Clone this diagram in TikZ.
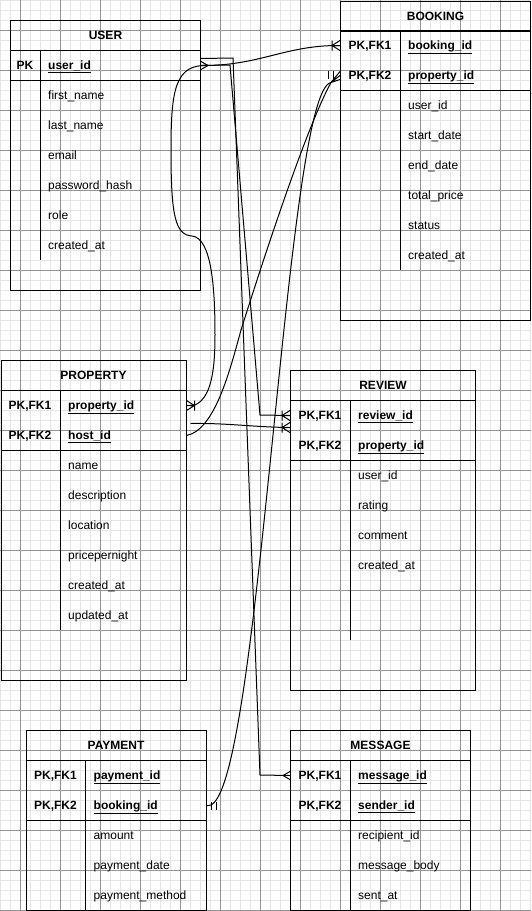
\documentclass[tikz,border=0pt]{standalone}
\usepackage{fontspec}
\setmainfont{Liberation Sans}
\usetikzlibrary{positioning,calc}

\newcommand{\erfont}{\fontsize{12}{14}\selectfont}

\tikzset{
  every node/.style={font=\erfont,inner sep=0pt},
  tabhead/.style={draw,line width=1pt,anchor=north west,minimum height=30pt,font=\erfont\bfseries},
  tabpart/.style={draw,line width=1pt,anchor=north west},
  tabline/.style={line width=1pt},
  keytag/.style={anchor=base,font=\erfont\bfseries},
  keyfield/.style={anchor=base west,font=\erfont\bfseries},
  field/.style={anchor=base west},
  link/.style={draw,line width=1pt},
  gridminor/.style={draw=black!10,line width=1pt},
  gridmajor/.style={draw=black!42,line width=1pt},
  onemany/.pic={\draw[line width=1pt] (-8,-5) -- (-8,5) (-8,0) -- (0,-5) (-8,0) -- (0,5) (-8,0) -- (0,0);},
  manyfoot/.pic={\draw[line width=1pt] (0,-4) -- (-7,0) -- (0,4);},
  mandone/.pic={\draw[line width=1pt] (-5,-4) -- (-5,4) (-10,-4) -- (-10,4);}
}

\begin{document}
\begin{tikzpicture}[x=1pt,y=-1pt]
    \useasboundingbox (0,0) rectangle (531,911);
    % grid
    \foreach \gx in {0,10,...,530} \draw[gridminor] (\gx,0) -- (\gx,911);
    \foreach \gy in {0,10,...,910} \draw[gridminor] (0,\gy) -- (531,\gy);
    \foreach \gx in {20,60,...,500} \draw[gridmajor] (\gx,0) -- (\gx,911);
    \foreach \gy in {30,70,...,910} \draw[gridmajor] (0,\gy) -- (531,\gy);

    % USER
    \node[tabhead,minimum width=190pt] (user-head) at (10,20) {USER};
    \node[tabpart,minimum width=190pt,minimum height=30pt] (user-keys) at (10,50) {};
    \node[tabpart,minimum width=190pt,minimum height=210pt] (user-body) at (10,80) {};
    \draw[tabline] (40,50) -- (40,260);
    \node[keytag] (user-t1) at (25,69.5) {PK};
    \node[keyfield] (user-id) at (48,69.5) {\underline{user\_id}};
    \node[field] (user-a1) at (48,99.5) {first\_name};
    \node[field] (user-a2) at (48,129.5) {last\_name};
    \node[field] (user-a3) at (48,159.5) {email};
    \node[field] (user-a4) at (48,189.5) {password\_hash};
    \node[field] (user-a5) at (48,219.5) {role};
    \node[field] (user-a6) at (48,249.5) {created\_at};

    % BOOKING
    \node[tabhead,minimum width=190pt] (book-head) at (340,0.5) {BOOKING};
    \node[tabpart,minimum width=190pt,minimum height=60pt] (book-keys) at (340,30) {};
    \node[tabpart,minimum width=190pt,minimum height=230pt] (book-body) at (340,90) {};
    \draw[tabline] (400,30) -- (400,270);
    \node[keytag] (book-t1) at (370,49.5) {PK,FK1};
    \node[keytag] (book-t2) at (370,79.5) {PK,FK2};
    \node[keyfield] (book-id) at (408,49.5) {\underline{booking\_id}};
    \node[keyfield] (book-prop) at (408,79.5) {\underline{property\_id}};
    \node[field] (book-a1) at (408,109.5) {user\_id};
    \node[field] (book-a2) at (408,139.5) {start\_date};
    \node[field] (book-a3) at (408,169.5) {end\_date};
    \node[field] (book-a4) at (408,199.5) {total\_price};
    \node[field] (book-a5) at (408,229.5) {status};
    \node[field] (book-a6) at (408,259.5) {created\_at};

    % PROPERTY
    \node[tabhead,minimum width=185pt] (prop-head) at (0.5,360) {PROPERTY};
    \node[tabpart,minimum width=185pt,minimum height=60pt] (prop-keys) at (0.5,390) {};
    \node[tabpart,minimum width=185pt,minimum height=230pt] (prop-body) at (0.5,450) {};
    \draw[tabline] (60,390) -- (60,630);
    \node[keytag] (prop-t1) at (30,409.5) {PK,FK1};
    \node[keytag] (prop-t2) at (30,439.5) {PK,FK2};
    \node[keyfield] (prop-id) at (68,409.5) {\underline{property\_id}};
    \node[keyfield] (prop-host) at (68,439.5) {\underline{host\_id}};
    \node[field] (prop-a1) at (68,469.5) {name};
    \node[field] (prop-a2) at (68,499.5) {description};
    \node[field] (prop-a3) at (68,529.5) {location};
    \node[field] (prop-a4) at (68,559.5) {pricepernight};
    \node[field] (prop-a5) at (68,589.5) {created\_at};
    \node[field] (prop-a6) at (68,619.5) {updated\_at};

    % REVIEW
    \node[tabhead,minimum width=185pt] (rev-head) at (290,370) {REVIEW};
    \node[tabpart,minimum width=185pt,minimum height=60pt] (rev-keys) at (290,400) {};
    \node[tabpart,minimum width=185pt,minimum height=230pt] (rev-body) at (290,460) {};
    \draw[tabline] (350,400) -- (350,640);
    \node[keytag] (rev-t1) at (320,419.5) {PK,FK1};
    \node[keytag] (rev-t2) at (320,449.5) {PK,FK2};
    \node[keyfield] (rev-id) at (358,419.5) {\underline{review\_id}};
    \node[keyfield] (rev-prop) at (358,449.5) {\underline{property\_id}};
    \node[field] (rev-a1) at (358,479.5) {user\_id};
    \node[field] (rev-a2) at (358,509.5) {rating};
    \node[field] (rev-a3) at (358,539.5) {comment};
    \node[field] (rev-a4) at (358,569.5) {created\_at};

    % PAYMENT
    \node[tabhead,minimum width=180pt] (pay-head) at (25.5,730) {PAYMENT};
    \node[tabpart,minimum width=180pt,minimum height=60pt] (pay-keys) at (25.5,760) {};
    \node[tabpart,minimum width=180pt,minimum height=90pt] (pay-body) at (25.5,820) {};
    \draw[tabline] (85.5,760) -- (85.5,910);
    \node[keytag] (pay-t1) at (55.5,779.5) {PK,FK1};
    \node[keytag] (pay-t2) at (55.5,809.5) {PK,FK2};
    \node[keyfield] (pay-id) at (93.5,779.5) {\underline{payment\_id}};
    \node[keyfield] (pay-book) at (93.5,809.5) {\underline{booking\_id}};
    \node[field] (pay-a1) at (93.5,839.5) {amount};
    \node[field] (pay-a2) at (93.5,869.5) {payment\_date};
    \node[field] (pay-a3) at (93.5,899.5) {payment\_method};

    % MESSAGE
    \node[tabhead,minimum width=180pt] (msg-head) at (290,730) {MESSAGE};
    \node[tabpart,minimum width=180pt,minimum height=60pt] (msg-keys) at (290,760) {};
    \node[tabpart,minimum width=180pt,minimum height=90pt] (msg-body) at (290,820) {};
    \draw[tabline] (350,760) -- (350,910);
    \node[keytag] (msg-t1) at (320,779.5) {PK,FK1};
    \node[keytag] (msg-t2) at (320,809.5) {PK,FK2};
    \node[keyfield] (msg-id) at (358,779.5) {\underline{message\_id}};
    \node[keyfield] (msg-sender) at (358,809.5) {\underline{sender\_id}};
    \node[field] (msg-a1) at (358,839.5) {recipient\_id};
    \node[field] (msg-a2) at (358,869.5) {message\_body};
    \node[field] (msg-a3) at (358,899.5) {sent\_at};

    % connection points
    \coordinate (user-pk) at (user-keys.east);
    \coordinate (user-pk0) at ($(user-keys.east)+(0,-7)$);
    \coordinate (book-pk1) at ($(book-keys.west)+(0,-15)$);
    \coordinate (book-pk2) at ($(book-keys.west)+(0,15)$);
    \coordinate (book-fan) at ($(book-pk2)+(-9,7)$);
    \coordinate (prop-pk1) at ($(prop-keys.east)+(0,-15)$);
    \coordinate (prop-pk2) at ($(prop-keys.east)+(0,15)$);
    \coordinate (prop-mid) at ($(prop-keys.east)+(4,3)$);
    \coordinate (rev-pk1) at ($(rev-keys.west)+(0,-15)$);
    \coordinate (rev-pk1b) at ($(rev-keys.west)+(0,-3)$);
    \coordinate (pay-pk2) at ($(pay-keys.east)+(0,15)$);
    \coordinate (msg-pk1) at ($(msg-keys.west)+(0,-15)$);

    % relations
    \draw[link] (user-pk) .. controls (260,66) and (285,45) .. (book-pk1);
    \draw[link] (user-pk) -- (230,65) -- (260,415) -- (rev-pk1);
    \draw[link] (user-pk0) -- (233,58) -- (260,775) -- (msg-pk1);
    \draw[link] (user-pk) -- ++(7,0) .. controls (175,64) and (171,90) .. (171,150)
        .. controls (171,215) and (175,235) .. (192,236)
        .. controls (212,238) and (215,290) .. (215,335)
        .. controls (215,375) and (210,398) .. (195,405) -- (prop-pk1);
    \draw[link] (prop-pk2) .. controls (215,430) and (230,370) .. (241,330)
        .. controls (260,270) and (305,130) .. (book-fan);
    \draw[link] (pay-pk2) -- ++(2,0) .. controls (260,805) and (285,90) .. (book-fan);
    \draw[link] (prop-mid) .. controls (230,423) and (250,427) .. (rev-pk1b);
    \draw[link] (book-fan) -- ($(book-pk2)+(0,-4)$) (book-fan) -- (book-pk2) (book-fan) -- ($(book-pk2)+(0,4)$);

    % relation ends
    \pic at (book-pk1) {onemany};
    \pic at (rev-pk1) {onemany};
    \pic at (rev-pk1b) {onemany};
    \pic[xscale=-1] at (prop-pk1) {onemany};
    \pic at (msg-pk1) {manyfoot};
    \pic[xscale=-1] at (user-pk) {manyfoot};
    \pic[xscale=-1] at (pay-pk2) {mandone};
    \pic at ($(book-pk2)+(-2,-1)$) {mandone};
\end{tikzpicture}
\end{document}
